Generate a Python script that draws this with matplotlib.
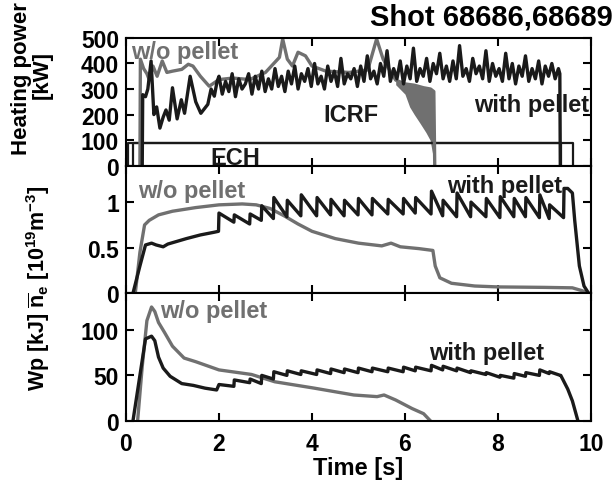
import numpy as np
import matplotlib
matplotlib.use("Agg")
import matplotlib.pyplot as plt

plt.rcParams["font.family"] = ["Liberation Sans", "DejaVu Sans"]
plt.rcParams["font.weight"] = "bold"
plt.rcParams["axes.labelweight"] = "bold"
plt.rcParams["mathtext.fontset"] = "custom"
plt.rcParams["mathtext.rm"] = "Liberation Sans:bold"
plt.rcParams["mathtext.it"] = "Liberation Sans:bold"
plt.rcParams["mathtext.bf"] = "Liberation Sans:bold"
plt.rcParams["mathtext.default"] = "rm"

BLACK = "#1a1a1a"
GRAY = "#707070"

# ---- heating power (top panel) ----
# ICRF w/o pellet (gray)
icrf_wo_t = [0.3, 0.31, 0.38, 0.45, 0.5, 0.58, 0.67, 0.78, 0.88, 1.0, 1.2, 1.34, 1.44,
             1.6, 1.79, 2.0, 2.3, 2.66, 3.0, 3.3, 3.37, 3.47, 3.58, 3.7, 3.86, 4.0, 4.3,
             4.8, 5.2, 5.39, 5.53, 5.7, 5.8, 6.0, 6.2, 6.4, 6.55, 6.62, 6.64]
icrf_wo_p = [0, 417, 380, 360, 337, 390, 350, 410, 365, 370, 377, 397, 390,
             350, 311, 337, 343, 337, 365, 424, 496, 417, 390, 444, 430, 390, 370,
             365, 375, 496, 417, 365, 335, 320, 315, 305, 300, 290, 0]
# modulated part before ICRF trip (filled band)
band_t = [5.8, 6.0, 6.1, 6.2, 6.32, 6.45, 6.54, 6.6, 6.64]
band_lo = [317, 280, 230, 200, 167, 130, 100, 40, 0]
band_hi = [335, 320, 318, 315, 310, 303, 300, 292, 0]

# ICRF with pellet (black), start-up part
icrf_w_t0 = [0.35, 0.36, 0.42, 0.47, 0.54, 0.6, 0.66, 0.73, 0.8, 0.86, 0.93, 1.0, 1.1,
             1.19, 1.26, 1.38, 1.5, 1.61, 1.76, 1.83, 1.9, 1.96]
icrf_w_p0 = [0, 278, 270, 300, 410, 200, 230, 147, 190, 218, 178, 305, 183,
             258, 205, 350, 250, 205, 240, 300, 272, 330]
# ICRF with pellet, 2.0 - 9.3 s (sampled trace)
icrf_w_p1 = [350, 280, 330, 290, 360, 270, 340, 300, 320, 360, 280, 350, 300, 370, 290,
             340, 300, 380, 310, 350, 290, 370, 320, 390, 300, 360, 330, 380, 310,
             400, 320, 350, 300, 390, 330, 370, 310, 420, 320, 360, 340, 380, 310,
             390, 330, 430, 340, 370, 320, 400, 350, 450, 330, 380, 340, 410, 320,
             390, 340, 460, 330, 380, 350, 420, 330, 400, 360, 440, 340, 390, 330,
             410, 340, 470, 350, 380, 330, 420, 360, 390, 340, 450, 330, 400, 350,
             380, 330, 440, 340, 400, 320, 390, 350, 430, 330, 380, 340, 410, 320,
             390, 350, 400, 340, 380]
icrf_w_end_t = [9.33, 9.34]
icrf_w_end_p = [360, 0]

# ECH
ech1_t = [0.04, 0.04, 9.61, 9.61]
ech2_t = [0.16, 0.16, 9.35, 9.35]
ech_p = [0, 88, 88, 0]

# ---- line density (middle panel) ----
ne_wo_t = [0.2, 0.3, 0.4, 0.5, 0.7, 1.0, 1.5, 2.0, 2.5, 2.8, 3.1, 3.4, 3.7, 4.0, 4.5,
           5.0, 5.5, 5.7, 5.9, 6.3, 6.6, 6.65, 6.75, 7.0, 7.5, 8.0, 9.0, 9.6, 9.8, 9.95]
ne_wo = [0, 0.45, 0.75, 0.8, 0.86, 0.9, 0.94, 0.97, 0.98, 0.97, 0.93, 0.85, 0.76, 0.68, 0.6,
         0.55, 0.52, 0.55, 0.51, 0.49, 0.47, 0.3, 0.17, 0.11, 0.08, 0.07, 0.065, 0.06, 0.03, 0]

ne_w_t0 = [0.15, 0.3, 0.42, 0.55, 0.65, 0.8, 0.9, 1.1, 1.3, 1.6, 1.9, 1.99]
ne_w0 = [0, 0.3, 0.53, 0.55, 0.53, 0.51, 0.54, 0.57, 0.6, 0.64, 0.67, 0.68]

pellet_t = [2.0, 2.33, 2.67, 2.92, 3.18, 3.47, 3.77, 4.11, 4.41, 4.70, 5.0, 5.30, 5.64,
            5.97, 6.23, 6.57, 6.82, 7.12, 7.42, 7.75, 8.05, 8.35, 8.60, 8.90, 9.11]
ne_peak = [0.88, 0.86, 0.87, 0.96, 1.05, 1.02, 1.08, 1.05, 1.03, 1.02, 1.04, 1.04, 1.03,
           1.04, 1.05, 1.12, 1.02, 1.10, 1.0, 1.04, 1.06, 1.04, 1.05, 1.08, 0.97]
ne_trough = [0.78, 0.76, 0.8, 0.82, 0.84, 0.85, 0.85, 0.86, 0.85, 0.86, 0.86, 0.87, 0.87,
             0.88, 0.87, 0.85, 0.84, 0.84, 0.84, 0.83, 0.84, 0.84, 0.83, 0.82, 0.83]
ne_w_end_t = [9.42, 9.5, 9.6, 9.65, 9.75, 9.85, 9.95]
ne_w_end = [1.15, 1.15, 1.1, 0.8, 0.3, 0.08, 0]

# ---- stored energy (bottom panel) ----
wp_wo_t = [0.25, 0.35, 0.45, 0.55, 0.62, 0.7, 0.83, 1.0, 1.25, 1.5, 2.0, 2.7, 3.2, 4.05,
           4.9, 5.4, 5.55, 5.8, 6.15, 6.4, 6.55]
wp_wo = [0, 60, 110, 125, 120, 108, 97, 82, 69, 65, 56, 51, 43, 36,
         28.5, 26.7, 28.5, 23, 13.7, 8, 0]

wp_w_t0 = [0.15, 0.3, 0.42, 0.55, 0.62, 0.7, 0.8, 0.95, 1.2, 1.45, 1.7, 1.95]
wp_w0 = [0, 50, 90, 93, 88, 70, 58, 49, 41, 39, 36, 34]
wp_peak = [40, 45, 46, 50, 54, 55, 55, 56, 57, 57, 58, 58, 58, 59, 59, 61, 60, 58, 55,
           53, 50, 52, 53, 56, 54]
wp_trough = [38, 42, 41, 46, 50, 51, 51, 52, 53, 53, 54, 54, 54, 55, 55, 56, 55, 53, 51,
             48, 47, 49, 50, 52, 50]
wp_w_end_t = [9.35, 9.5, 9.6, 9.72]
wp_w_end = [50, 35, 22, 0]


def sawtooth(t0, v0, pt, peak, trough, t_end, v_end):
    # jump to peak at each pellet, decay to trough before the next one
    t = list(t0)
    v = list(v0)
    nxt = pt[1:] + [t_end[0]]
    for ti, tn, pk, tr in zip(pt, nxt, peak, trough):
        t += [ti, tn - 0.01]
        v += [pk, tr]
    return t + list(t_end), v + list(v_end)


fig = plt.figure(figsize=(6.16, 4.81), dpi=100)
axs = fig.subplots(3, 1, sharex=True)
fig.subplots_adjust(left=0.2045, right=0.9594, top=0.919, bottom=0.1227, hspace=0)

lw = 2.4
fs = 17
# top
ax = axs[0]
ax.plot(ech1_t, ech_p, color=BLACK, lw=1.6)
ax.plot(ech2_t, ech_p, color=BLACK, lw=1.6)
ax.plot(icrf_wo_t, icrf_wo_p, color=GRAY, lw=lw)
ax.fill_between(band_t, band_lo, band_hi, color=GRAY, lw=0)
t1 = np.linspace(2.0, 9.3, len(icrf_w_p1))
ax.plot(icrf_w_t0 + list(t1) + icrf_w_end_t, icrf_w_p0 + icrf_w_p1 + icrf_w_end_p,
        color=BLACK, lw=lw)
ax.set_ylim(0, 500)
ax.set_yticks([0, 100, 200, 300, 400, 500])
ax.text(0.1, 420, "w/o pellet", color=GRAY, fontsize=fs, va="baseline")
ax.text(4.83, 175, "ICRF", color=BLACK, fontsize=fs, ha="center", va="baseline")
ax.text(9.97, 215, "with pellet", color=BLACK, fontsize=fs, ha="right", va="baseline")
ax.text(2.35, 6, "ECH", color=BLACK, fontsize=fs, ha="center", va="baseline")

# middle
ax = axs[1]
ax.plot(ne_wo_t, ne_wo, color=GRAY, lw=lw)
tt, vv = sawtooth(ne_w_t0, ne_w0, pellet_t, ne_peak, ne_trough, ne_w_end_t, ne_w_end)
ax.plot(tt, vv, color=BLACK, lw=lw)
ax.set_ylim(0, 1.4)
ax.set_yticks([0, 0.5, 1])
ax.set_yticklabels(["0", "0.5", "1"])
ax.text(0.25, 1.06, "w/o pellet", color=GRAY, fontsize=fs, va="baseline")
ax.text(8.15, 1.11, "with pellet", color=BLACK, fontsize=fs, ha="center", va="baseline")

# bottom
ax = axs[2]
ax.plot(wp_wo_t, wp_wo, color=GRAY, lw=lw)
tt, vv = sawtooth(wp_w_t0, wp_w0, pellet_t, wp_peak, wp_trough, wp_w_end_t, wp_w_end)
ax.plot(tt, vv, color=BLACK, lw=lw)
ax.set_ylim(0, 140)
ax.set_yticks([0, 50, 100])
ax.text(0.74, 114, "w/o pellet", color=GRAY, fontsize=fs, va="baseline")
ax.text(7.75, 68, "with pellet", color=BLACK, fontsize=fs, ha="center", va="baseline")
ax.set_xlim(0, 10)
ax.set_xticks([0, 2, 4, 6, 8, 10])
ax.set_xlabel("Time [s]", fontsize=fs, fontweight="bold", labelpad=1)

for ax in axs:
    ax.tick_params(direction="in", top=True, right=True, length=6, width=1.5,
                   labelsize=16.5, pad=5)
    for s in ax.spines.values():
        s.set_linewidth(1.5)
axs[2].tick_params(axis="x", pad=8)

fig.text(22 / 616, 1 - 79 / 481, "Heating power", rotation=90, fontsize=16,
         ha="center", va="center")
fig.text(42 / 616, 1 - 75 / 481, "[kW]", rotation=90, fontsize=16,
         ha="center", va="center")
fig.text(38 / 616, 1 - 288 / 481,
         r"Wp [kJ] $\overline{\mathrm{n}}_\mathrm{e}$ [10$^{19}$m$^{-3}$]",
         rotation=90, fontsize=15.5, ha="center", va="center")
fig.text(613 / 616, 1 - 18 / 481, "Shot 68686,68689", fontsize=21,
         ha="right", va="center")

fig.savefig("out.png", dpi=100)
